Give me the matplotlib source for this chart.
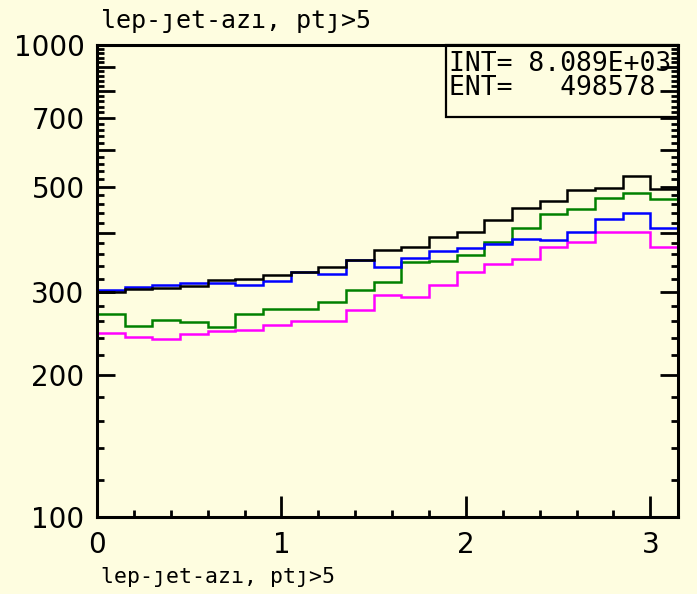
import numpy as np
import matplotlib
matplotlib.use("Agg")
import matplotlib.pyplot as plt
from matplotlib.patches import Rectangle
from matplotlib.ticker import FixedLocator, FixedFormatter

# 21 bins of 0.15 from 0 to 3.15
bin_edges = np.linspace(0.0, 3.15, 22)

black_vals = [299, 304, 305, 308, 318, 320, 326, 331, 339, 350, 367,
              373, 391, 402, 426, 451, 468, 493, 497, 528, 495]
blue_vals = [303, 307, 310, 313, 313, 310, 316, 330, 327, 350, 338,
             354, 366, 372, 378, 388, 386, 401, 427, 440, 410]
green_vals = [269, 254, 262, 259, 253, 269, 276, 276, 286, 303, 315,
              347, 349, 359, 383, 409, 438, 449, 475, 485, 471]
magenta_vals = [245, 241, 238, 244, 248, 249, 255, 260, 260, 275, 295,
                292, 310, 330, 344, 352, 374, 383, 402, 402, 374]

title_txt = "lep-\u0237et-az\u0131, pt\u0237>5"
y_major = [100, 200, 300, 400, 500, 600, 700, 800, 900, 1000]
y_labels = ["100", "200", "300", "", "500", "", "700", "", "", "1000"]
y_minor = [v for v in range(120, 1000, 20) if v % 100 != 0]
x_major = [0, 1, 2, 3]
x_minor = [0.2, 0.4, 0.6, 0.8, 1.2, 1.4, 1.6, 1.8, 2.2, 2.4, 2.6, 2.8]
stats = ["INT= 8.089E+03", "ENT=   498578"]

bg = "#fefde0"
W, H = 697, 594
fig = plt.figure(figsize=(W / 100, H / 100), dpi=100, facecolor=bg)
ax = fig.add_axes([97 / W, 77 / H, 581 / W, 472 / H], facecolor=bg)

# draw order: black on top
ax.stairs(magenta_vals, bin_edges, baseline=None, color="#ff00ff", lw=1.8)
ax.stairs(green_vals, bin_edges, baseline=None, color="#008000", lw=1.8)
ax.stairs(blue_vals, bin_edges, baseline=None, color="#0000ff", lw=1.8)
ax.stairs(black_vals, bin_edges, baseline=None, color="black", lw=1.8)

ax.set_yscale("log")
ax.set_xlim(0, 3.15)
ax.set_ylim(100, 1000)

ax.yaxis.set_major_locator(FixedLocator(y_major))
ax.yaxis.set_major_formatter(FixedFormatter(y_labels))
ax.yaxis.set_minor_locator(FixedLocator(y_minor))
ax.yaxis.set_minor_formatter(FixedFormatter([""] * len(y_minor)))
ax.xaxis.set_major_locator(FixedLocator(x_major))
ax.xaxis.set_minor_locator(FixedLocator(x_minor))

ax.tick_params(axis="y", which="major", direction="in", length=13, width=2,
               left=True, right=True, labelsize=20, pad=9)
ax.tick_params(axis="y", which="minor", direction="in", length=5, width=2,
               left=True, right=True)
ax.tick_params(axis="x", which="major", direction="in", length=15, width=2,
               top=False, labelsize=20, pad=10)
ax.tick_params(axis="x", which="minor", direction="in", length=5, width=2,
               top=False)

for s in ax.spines.values():
    s.set_linewidth(2.2)

# stats box
ax.add_patch(Rectangle(((446 - 97) / 581, (517 - 117) / 472),
                       (678 - 446) / 581, (117 - 45) / 472,
                       transform=ax.transAxes, fill=False, lw=1.6,
                       clip_on=False, zorder=5))
fig.text(449 / W, 1 - 51 / H, "\n".join(stats), family="DejaVu Sans Mono",
         fontsize=19, va="top", ha="left", linespacing=0.88)

fig.text(101 / W, 1 - 9 / H, title_txt, family="DejaVu Sans Mono",
         fontsize=18, va="top", ha="left")
fig.text(101 / W, 1 - 567 / H, title_txt, family="DejaVu Sans Mono",
         fontsize=15.5, va="top", ha="left")

fig.savefig("out.png", dpi=100, facecolor=bg)
